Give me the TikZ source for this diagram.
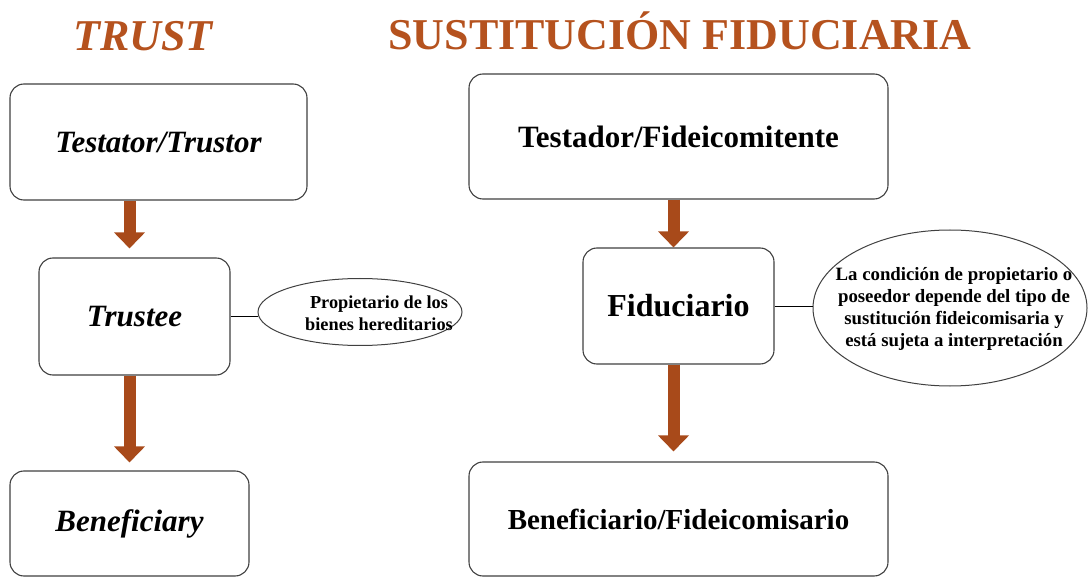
\documentclass[tikz,border=0pt]{standalone}
\usepackage{fontspec}
\setmainfont{Liberation Serif}
\usetikzlibrary{shapes.geometric,arrows.meta}
\definecolor{arrowc}{RGB}{168,74,26}
\definecolor{titlec}{RGB}{181,82,30}
\definecolor{edgec}{RGB}{64,64,64}
\begin{document}
\begin{tikzpicture}[x=1pt,y=-1pt,
  box/.style={draw=edgec, line width=1.1pt, rounded corners=14pt, inner sep=0pt, fill=white},
  bigarrow/.style={draw=arrowc, line width=12pt, -{Triangle[width=30pt,length=16pt]}},
  oval/.style={ellipse, draw=edgec, line width=1pt, inner sep=0pt},
  link/.style={draw=black, line width=0.8pt},
  title/.style={text=titlec, anchor=base, inner sep=0pt},
  bigtext/.style={font=\fontsize{31}{36}\selectfont\bfseries},
  bigit/.style={font=\fontsize{31}{36}\selectfont\bfseries\itshape},
  smalltext/.style={font=\fontsize{18.8}{22}\selectfont\bfseries, align=center, inner sep=0pt}
]
\useasboundingbox (0,0) rectangle (1090,577);

% titles
\node[title, font=\fontsize{44}{50}\selectfont\bfseries\itshape] (t1) at (143,51) {TRUST};
\node[title, font=\fontsize{44}{50}\selectfont\bfseries] (t2) at (680,50) {SUSTITUCIÓN FIDUCIARIA};

% left column
\node[box, bigit, minimum width=297pt, minimum height=116pt] (tt) at (158.5,142) {Testator/Trustor};
\node[box, bigit, minimum width=191pt, minimum height=117pt] (trustee) at (134.5,316.5) {Trustee};
\node[box, bigit, minimum width=239pt, minimum height=105pt] (ben) at (129.5,523.5) {Beneficiary};
\node[oval, minimum width=204pt, minimum height=67pt] (ell1) at (360,312) {};
\node[smalltext, font=\fontsize{18.3}{22}\selectfont\bfseries] (ell1t) at (379,313) {Propietario de los\\bienes hereditarios};

% right column
\node[box, bigtext, minimum width=419pt, minimum height=125pt] (td) at (678.5,136.5) {Testador/Fideicomitente};
\node[box, font=\fontsize{32}{38}\selectfont\bfseries, minimum width=191pt, minimum height=116pt] (fid) at (678.5,306) {Fiduciario};
\node[box, font=\fontsize{29}{34}\selectfont\bfseries, minimum width=419pt, minimum height=114pt] (bf) at (678.5,519) {Beneficiario/Fideicomisario};
\node[oval, minimum width=274pt, minimum height=156pt] (ell2) at (950,308) {};
\node[smalltext] (ell2t) at (954,309)
  {La condición de propietario o\\poseedor depende del tipo de\\sustitución fideicomisaria y\\está sujeta a interpretación};

% arrows
\draw[bigarrow, shorten >=9pt] (tt.south -| ben.north) -- (trustee.north -| ben.north);
\draw[bigarrow, shorten >=8pt] (trustee.south -| ben.north) -- (ben.north);
\draw[bigarrow] ([xshift=-5pt]td.south) -- ([xshift=-5pt]fid.north);
\draw[bigarrow, shorten >=10pt] ([xshift=-5pt]fid.south) -- ([xshift=-5pt]bf.north);

% links
\draw[link] (trustee.east) -- (trustee.east -| ell1.west);
\draw[link] (fid.east) -- (fid.east -| ell2.west);
\end{tikzpicture}
\end{document}
